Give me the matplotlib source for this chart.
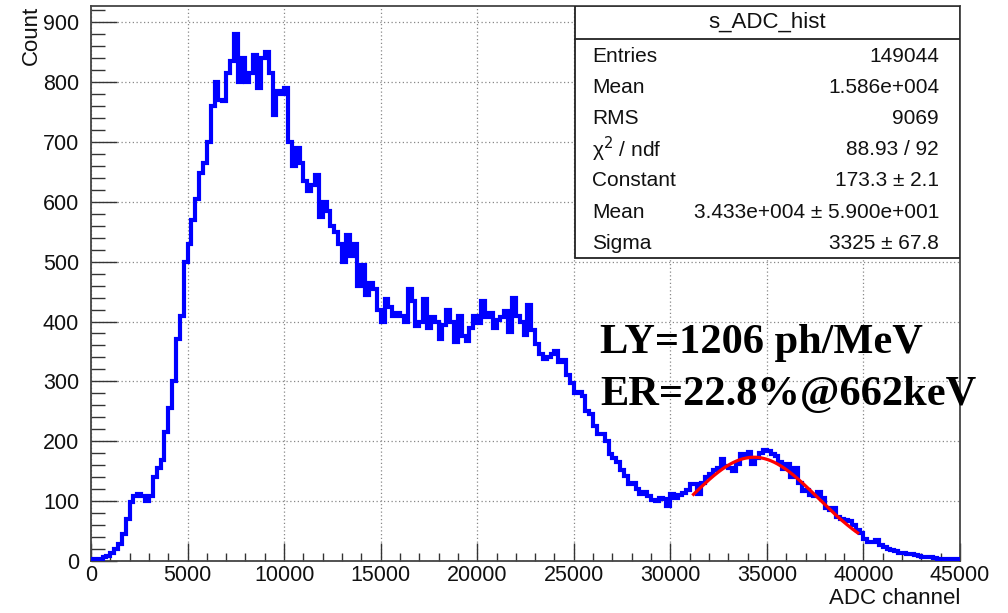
import numpy as np
import matplotlib.pyplot as plt
from matplotlib.patches import Rectangle
from matplotlib.ticker import MultipleLocator

plt.rcParams['font.family'] = ['Liberation Sans', 'DejaVu Sans']

# ADC spectrum (200 channels per bin)
bin_width = 200
counts_0_5k = [3, 2, 3, 6, 8, 14, 20, 28, 45, 70, 98, 108, 112, 108, 100, 108, 140, 155, 168, 215, 255, 300, 370, 410, 500]
counts_5_10k = [530, 570, 605, 648, 665, 700, 760, 800, 770, 768, 815, 835, 880, 800, 840, 800, 815, 845, 790, 840, 850, 815, 745, 785, 780]
counts_10_15k = [790, 700, 660, 690, 665, 635, 618, 628, 645, 575, 600, 585, 560, 550, 530, 500, 545, 510, 530, 460, 495, 445, 465, 455, 420]
counts_15_20k = [400, 438, 425, 410, 415, 410, 400, 455, 435, 392, 400, 438, 390, 407, 400, 370, 395, 420, 400, 365, 410, 375, 368, 390, 410]
counts_20_25k = [398, 435, 408, 415, 390, 402, 407, 418, 382, 440, 410, 400, 378, 428, 385, 362, 345, 338, 340, 345, 350, 333, 336, 310, 298]
counts_25_30k = [280, 282, 275, 250, 245, 225, 212, 212, 200, 178, 172, 165, 152, 142, 128, 131, 120, 112, 115, 108, 102, 100, 105, 104, 92]
counts_30_35k = [112, 105, 110, 114, 118, 128, 128, 112, 130, 140, 145, 152, 155, 170, 158, 155, 150, 162, 178, 174, 182, 162, 172, 180, 186]
counts_35_40k = [183, 178, 176, 165, 153, 162, 140, 155, 130, 117, 118, 111, 108, 115, 105, 88, 85, 88, 73, 70, 69, 67, 60, 52, 47]
counts_40_45k = [36, 32, 31, 35, 26, 23, 20, 18, 17, 14, 13, 11, 11, 10, 8, 7, 7, 6, 5, 4, 4, 4, 3, 3, 3]

counts = np.array(counts_0_5k + counts_5_10k + counts_10_15k + counts_15_20k + counts_20_25k
                  + counts_25_30k + counts_30_35k + counts_35_40k + counts_40_45k)
edges = np.arange(len(counts) + 1) * bin_width

# gaussian fit shown in the stats box
fit_const = 173.3
fit_mean = 3.433e4
fit_sigma = 3325
fit_lo, fit_hi = 31200, 39700

stats_title = 's_ADC_hist'
stats_names = ['Entries', 'Mean', 'RMS', 'χ$^{2}$ / ndf', 'Constant', 'Mean', 'Sigma']
stats_vals = ['149044', '1.586e+004', '9069', '88.93 / 92', '173.3 ± 2.1',
              '3.433e+004 ± 5.900e+001', '3325 ± 67.8']

W, H = 1008, 613
fig = plt.figure(figsize=(W / 100, H / 100), dpi=100)
x0, x1, y0, y1 = 91, 960, 561, 6
ax = fig.add_axes([x0 / W, 1 - y0 / H, (x1 - x0) / W, (y0 - y1) / H])

ax.stairs(counts, edges, color='#0000ff', linewidth=3.0, baseline=None, zorder=3)

xf = np.linspace(fit_lo, fit_hi, 300)
yf = fit_const * np.exp(-0.5 * ((xf - fit_mean) / fit_sigma) ** 2)
ax.plot(xf, yf, color='#ff0000', linewidth=2.3, zorder=4)

ax.set_xlim(0, 45000)
ax.set_ylim(0, 927)
ax.xaxis.set_major_locator(MultipleLocator(5000))
ax.xaxis.set_minor_locator(MultipleLocator(1000))
ax.yaxis.set_major_locator(MultipleLocator(100))
ax.yaxis.set_minor_locator(MultipleLocator(20))
ax.grid(True, which='major', color='#888888', linestyle=(0, (1, 2)), linewidth=0.9, zorder=1)
ax.set_axisbelow(True)

ax.tick_params(axis='both', which='both', direction='in', colors='#333333', width=1.0,
               labelcolor='#111111', labelsize=15.5)
ax.tick_params(axis='y', which='major', length=18.5, pad=8.5)
ax.tick_params(axis='y', which='minor', length=10)
ax.tick_params(axis='x', which='major', length=13, pad=3)
ax.tick_params(axis='x', which='minor', length=6)
for s in ax.spines.values():
    s.set_color('#444444')
    s.set_linewidth(1.3)

ax.set_xlabel('ADC channel', fontsize=16, loc='right', color='#111111')
ax.xaxis.set_label_coords(1.0, -0.048)
ax.xaxis.label.set_va('top')
ax.set_ylabel('Count', fontsize=16, loc='top', color='#111111')
ax.yaxis.set_label_coords(-0.056, 1.0)

# stats box
bx0 = (575 - x0) / (x1 - x0)
by0 = (y0 - 258) / (y0 - y1)
ax.add_patch(Rectangle((bx0, by0), 1 - bx0, 1 - by0, transform=ax.transAxes,
                       facecolor='white', edgecolor='#222222', linewidth=1.3, zorder=5))
sep = (y0 - 39) / (y0 - y1)
ax.plot([bx0, 1], [sep, sep], transform=ax.transAxes, color='#222222', linewidth=1.3, zorder=6)
ax.text((bx0 + 1) / 2, (y0 - 22) / (y0 - y1), stats_title, transform=ax.transAxes,
        ha='center', va='center', fontsize=16, color='#111111', zorder=7)
lx = (592 - x0) / (x1 - x0)
rx = (939 - x0) / (x1 - x0)
for i, (nm, val) in enumerate(zip(stats_names, stats_vals)):
    yy = (y0 - (56 + i * 31.2)) / (y0 - y1)
    ax.text(lx, yy, nm, transform=ax.transAxes, ha='left', va='center',
            fontsize=15, color='#111111', zorder=7)
    ax.text(rx, yy, val, transform=ax.transAxes, ha='right', va='center',
            fontsize=15, color='#111111', zorder=7)

# annotation
tx = (600 - x0) / (x1 - x0)
ax.text(tx, (y0 - 353) / (y0 - y1), 'LY=1206 ph/MeV', transform=ax.transAxes,
        ha='left', va='baseline', fontsize=30.5, fontweight='bold',
        family=['Liberation Serif', 'DejaVu Serif'], zorder=8)
ax.text(tx, (y0 - 405) / (y0 - y1), 'ER=22.8%@662keV', transform=ax.transAxes,
        ha='left', va='baseline', fontsize=30.5, fontweight='bold',
        family=['Liberation Serif', 'DejaVu Serif'], zorder=8, clip_on=False)

fig.savefig('out.png', dpi=100)
